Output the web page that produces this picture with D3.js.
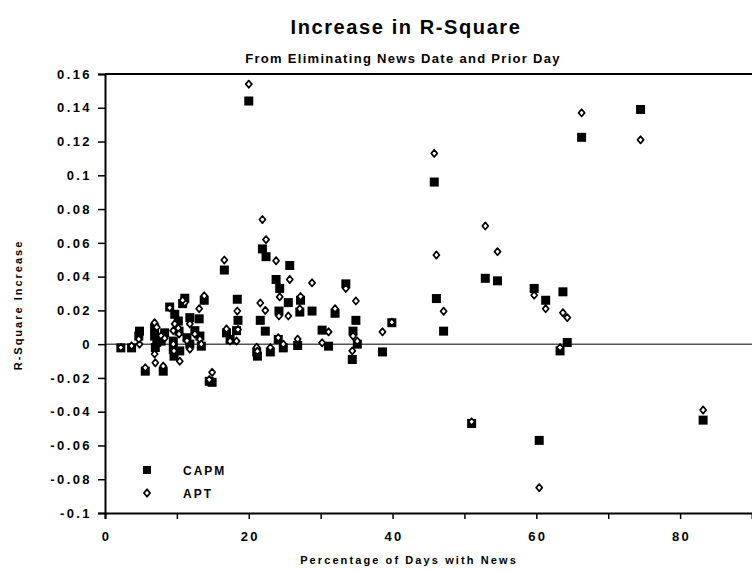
<!DOCTYPE html>
<html>
<head>
<meta charset="utf-8">
<script src="https://cdn.jsdelivr.net/npm/d3@7"></script>
<style>
  body { margin: 0; background: #fff; }
  svg text { font-family: "Liberation Sans", Arial, sans-serif; font-weight: bold; fill: #000; }
</style>
</head>
<body>
<div id="chart"></div>
<script>
// percentage of days with news, one entry per stock
const newsPct = [
    20.0, 74.5, 66.3, 45.8, 83.2, 60.4, 51.0, 52.9, 54.6, 46.1,
    59.7, 61.3, 63.7, 64.3, 63.3, 47.1, 38.6, 39.9, 16.6, 21.9,
    22.4, 23.8, 25.7, 28.8, 33.5, 24.3, 34.9, 27.2, 25.5, 27.1,
    32.0, 24.2, 21.6, 22.3, 18.4, 18.5, 16.9, 17.4, 34.5, 35.1,
    30.2, 31.1, 34.4, 26.8, 24.1, 24.8, 23.0, 21.1, 21.2, 14.9,
    14.5, 13.8, 13.1, 11.1, 10.8, 9.0, 9.7, 2.2, 3.7, 4.8,
    4.7, 5.6, 8.1, 6.9, 6.9, 7.0, 7.8, 8.3, 9.5, 9.5,
    9.6, 10.2, 10.3, 10.4, 11.4, 11.8, 13.2, 13.4, 11.8, 18.3,
    7.2, 12.5
];
// R-square increase, CAPM model
const capmIncrease = [
    0.144, 0.139, 0.1225, 0.096, -0.045, -0.057, -0.047, 0.039, 0.0375, 0.027,
    0.033, 0.026, 0.031, 0.001, -0.004, 0.0077, -0.0046, 0.0127, 0.0439, 0.0564,
    0.0518, 0.0383, 0.0466, 0.0196, 0.0357, 0.033, 0.0141, 0.026, 0.0246, 0.019,
    0.0183, 0.0196, 0.0141, 0.0077, 0.0266, 0.0141, 0.0067, 0.0028, 0.0077, 0.0,
    0.0083, -0.0012, -0.0091, -0.0008, 0.0028, -0.0022, -0.0046, -0.0046, -0.0071, -0.0226,
    -0.022, 0.026, 0.015, 0.0272, 0.024, 0.022, 0.0177, -0.0022, -0.0022, 0.0077,
    0.0048, -0.016, -0.016, 0.0097, 0.0048, -0.002, 0.0018, 0.0067, 0.0018, -0.0032,
    -0.0071, 0.0137, 0.0077, -0.004, 0.0038, 0.0, 0.0048, -0.0012, 0.0157, 0.008,
    0.001, 0.008
];
// R-square increase, APT model
const aptIncrease = [
    0.154, 0.121, 0.137, 0.113, -0.039, -0.085, -0.046, 0.070, 0.0548, 0.0528,
    0.029, 0.021, 0.0186, 0.0157, -0.002, 0.0195, 0.0073, 0.013, 0.0498, 0.0738,
    0.0619, 0.0494, 0.0383, 0.0363, 0.033, 0.028, 0.0256, 0.0282, 0.0167, 0.021,
    0.021, 0.0167, 0.0244, 0.020, 0.0196, 0.0087, 0.009, 0.0018, 0.0048, 0.0018,
    0.0008, 0.0073, -0.004, 0.003, 0.0038, 0.0, -0.002, -0.0018, -0.0042, -0.0167,
    -0.021, 0.0286, 0.021, 0.0246, 0.026, 0.0216, 0.012, -0.002, -0.001, 0.0,
    0.003, -0.014, -0.013, 0.0127, -0.0058, -0.011, 0.005, 0.0035, 0.008, 0.0,
    -0.004, 0.0095, 0.006, -0.0101, 0.002, -0.003, 0.003, 0.0, 0.012, 0.0018,
    0.01, 0.006
];
const yTicks = [-0.1, -0.08, -0.06, -0.04, -0.02, 0, 0.02, 0.04, 0.06, 0.08, 0.1, 0.12, 0.14, 0.16];
const xTicks = [0, 20, 40, 60, 80];
const seriesNames = ["CAPM", "APT"];

const width = 752, height = 573;
const margin = { top: 74, right: 0, bottom: 60, left: 105 };

const svg = d3.select("#chart").append("svg")
    .attr("width", width)
    .attr("height", height);

const x = d3.scaleLinear().domain([0, 90]).range([margin.left, width - margin.right]);
const y = d3.scaleLinear().domain([-0.1, 0.16]).range([height - margin.bottom, margin.top]);

const fmt = d => d === 0 ? "0" : String(d);

// titles
svg.append("text")
    .attr("x", 406).attr("y", 34)
    .attr("text-anchor", "middle")
    .style("font-size", "20px")
    .style("letter-spacing", "1.6px")
    .text("Increase in R-Square");

svg.append("text")
    .attr("x", 403).attr("y", 63)
    .attr("text-anchor", "middle")
    .style("font-size", "13px")
    .style("letter-spacing", "1.3px")
    .text("From Eliminating News Date and Prior Day");

// zero line
svg.append("line")
    .attr("x1", x(0)).attr("x2", x(90))
    .attr("y1", y(0)).attr("y2", y(0))
    .attr("stroke", "#555")
    .attr("stroke-width", 1.5);

// axes
const yAxis = d3.axisLeft(y).tickValues(yTicks).tickFormat(fmt).tickSize(7).tickPadding(6);
const xAxis = d3.axisBottom(x).tickValues(d3.range(0, 90, 10))
    .tickFormat(d => xTicks.includes(d) ? d : "").tickSize(6).tickPadding(13);

const gy = svg.append("g")
    .attr("transform", `translate(${margin.left},0)`)
    .call(yAxis);
const gx = svg.append("g")
    .attr("transform", `translate(0,${height - margin.bottom})`)
    .call(xAxis);

[gx, gy].forEach(g => {
    g.select(".domain").attr("stroke", "#000").attr("stroke-width", 2);
    g.selectAll(".tick line").attr("stroke", "#000").attr("stroke-width", 1.5);
    g.selectAll(".tick text")
        .style("font-size", "13px")
        .style("letter-spacing", "2.4px");
});
gx.selectAll(".tick text").attr("dx", "1px");

// top frame line
svg.append("line")
    .attr("x1", x(0)).attr("x2", x(90))
    .attr("y1", y(0.16)).attr("y2", y(0.16))
    .attr("stroke", "#000")
    .attr("stroke-width", 2);

// axis labels
svg.append("text")
    .attr("x", 409).attr("y", 564)
    .attr("text-anchor", "middle")
    .style("font-size", "11px")
    .style("letter-spacing", "2.1px")
    .text("Percentage of Days with News");

svg.append("text")
    .attr("transform", `translate(22,${305}) rotate(-90)`)
    .attr("text-anchor", "middle")
    .style("font-size", "11px")
    .style("letter-spacing", "2px")
    .text("R-Square Increase");

// markers
const diamond = r => `M0,${-r}L${r * 0.85},0L0,${r}L${-r * 0.85},0Z`;

const points = newsPct.map((p, i) => ({ p: p, capm: capmIncrease[i], apt: aptIncrease[i] }));

svg.append("g").selectAll("rect")
    .data(points)
    .join("rect")
    .attr("x", d => x(d.p) - 4.5)
    .attr("y", d => y(d.capm) - 4.5)
    .attr("width", 9)
    .attr("height", 9)
    .attr("fill", "#000");

svg.append("g").selectAll("path")
    .data(points)
    .join("path")
    .attr("d", diamond(3.6))
    .attr("transform", d => `translate(${x(d.p)},${y(d.apt)})`)
    .attr("fill", "#fff")
    .attr("stroke", "#000")
    .attr("stroke-width", 1.7)
    .attr("stroke-linejoin", "round");

// legend
const legend = svg.append("g");
legend.append("rect")
    .attr("x", 143).attr("y", 466).attr("width", 8).attr("height", 8)
    .attr("fill", "#000");
legend.append("path")
    .attr("d", diamond(3.6))
    .attr("transform", "translate(147,493)")
    .attr("fill", "#fff").attr("stroke", "#000").attr("stroke-width", 1.7);
legend.selectAll("text")
    .data(seriesNames)
    .join("text")
    .attr("x", 183)
    .attr("y", (d, i) => 475 + i * 23)
    .style("font-size", "12px")
    .style("letter-spacing", "2px")
    .text(d => d);
</script>
</body>
</html>
